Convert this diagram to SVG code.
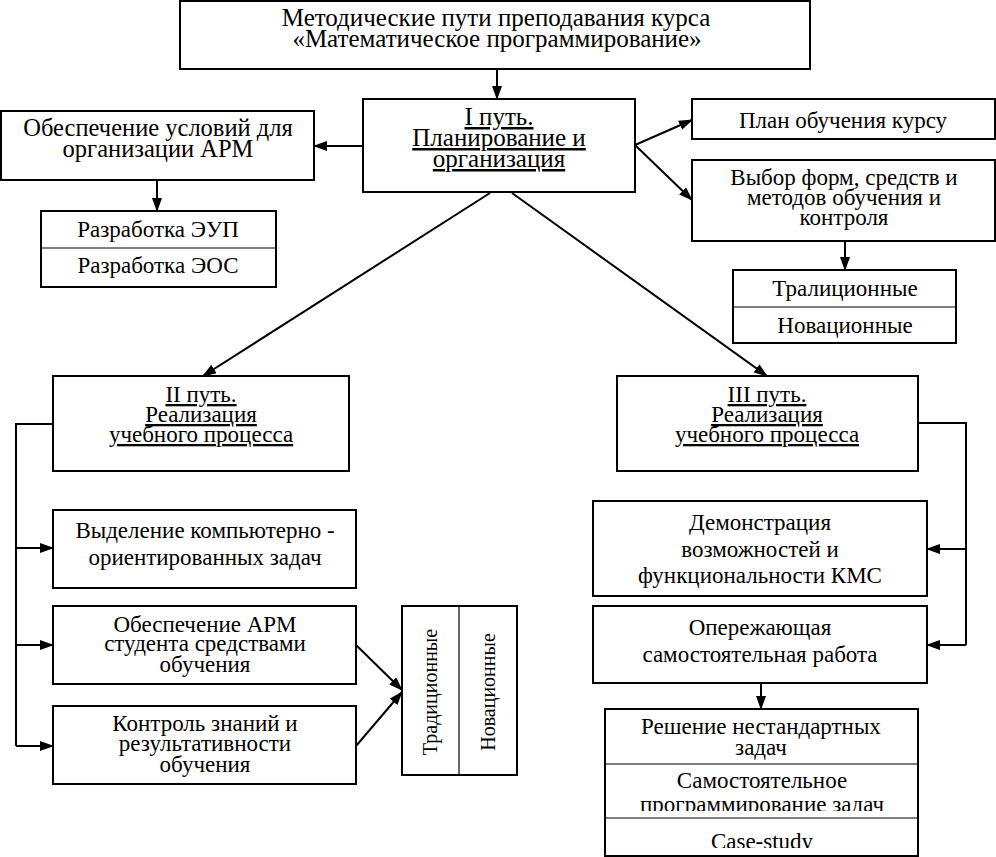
<svg xmlns="http://www.w3.org/2000/svg" width="996" height="857" viewBox="0 0 996 857">
<defs>
<marker id="ah" markerWidth="14" markerHeight="10" refX="13" refY="5" orient="auto" markerUnits="userSpaceOnUse">
<path d="M0,0 L14,5 L0,10 Z" fill="#000"/>
</marker>
<clipPath id="clipProg"><rect x="605" y="764" width="313" height="47"/></clipPath>
<clipPath id="clipCase"><rect x="605" y="818" width="313" height="30"/></clipPath>
<style>
.b{fill:#fff;stroke:#000;stroke-width:2}
.d{stroke:#000;stroke-width:1.2;fill:none}
.c{stroke:#000;stroke-width:2;fill:none}
.a{marker-end:url(#ah)}
text{font-family:"Liberation Serif","Times New Roman",serif;font-size:23px;fill:#000;text-anchor:middle}
.big{font-size:25px}
.mid{font-size:24.5px}
.rot{font-size:20px}
.u{text-decoration:underline}
</style>
</defs>
<rect width="996" height="857" fill="#fff"/>
<g id="connectors">
<line class="c a" x1="497" y1="69" x2="497" y2="99"/>
<line class="c a" x1="363" y1="146" x2="314" y2="146"/>
<line class="c a" x1="157" y1="180" x2="157" y2="211"/>
<line class="c a" x1="635" y1="145" x2="692" y2="120"/>
<line class="c a" x1="635" y1="145" x2="692" y2="200"/>
<line class="c a" x1="845" y1="241" x2="845" y2="270"/>
<line class="c a" x1="490" y1="193" x2="203" y2="376"/>
<line class="c a" x1="512" y1="193" x2="767" y2="376"/>
<polyline class="c" points="53,424 16,424 16,746"/>
<line class="c a" x1="16" y1="548" x2="53" y2="548"/>
<line class="c a" x1="16" y1="645" x2="53" y2="645"/>
<line class="c a" x1="16" y1="746" x2="53" y2="746"/>
<line class="c a" x1="356" y1="645" x2="402" y2="690"/>
<line class="c a" x1="356" y1="746" x2="402" y2="692"/>
<polyline class="c" points="918,423 966,423 966,645"/>
<line class="c a" x1="966" y1="549" x2="927" y2="549"/>
<line class="c a" x1="966" y1="645" x2="927" y2="645"/>
<line class="c a" x1="761" y1="683" x2="761" y2="709"/>
</g>
<g id="n-top">
<rect class="b" x="180" y="1" width="630" height="68"/>
<text class="big" x="496" y="26">Методические пути преподавания курса</text>
<text class="big" x="497" y="47">«Математическое программирование»</text>
</g>
<g id="n-path1">
<rect class="b" x="363" y="99" width="272" height="93"/>
<text class="u big" x="499" y="125">I путь.</text>
<text class="u big" x="499" y="146">Планирование и</text>
<text class="u big" x="499" y="167">организация</text>
</g>
<g id="n-arm">
<rect class="b" x="1" y="111" width="313" height="69"/>
<text class="mid" x="158" y="136">Обеспечение условий для</text>
<text class="mid" x="158" y="157">организации АРМ</text>
</g>
<g id="n-razr">
<rect class="b" x="41" y="211" width="235" height="76"/>
<line class="d" x1="41" y1="248" x2="276" y2="248"/>
<text x="158" y="237">Разработка ЭУП</text>
<text x="158" y="273">Разработка ЭОС</text>
</g>
<g id="n-plan">
<rect class="b" x="692" y="99" width="303" height="40"/>
<text x="843" y="128">План обучения курсу</text>
</g>
<g id="n-vybor">
<rect class="b" x="692" y="160" width="303" height="81"/>
<text x="844" y="185">Выбор форм, средств и</text>
<text x="844" y="205">методов обучения и</text>
<text x="844" y="225">контроля</text>
</g>
<g id="n-trad1">
<rect class="b" x="733" y="270" width="223" height="73"/>
<line class="d" x1="733" y1="307" x2="956" y2="307"/>
<text x="845" y="296">Тралиционные</text>
<text x="845" y="333">Новационные</text>
</g>
<g id="n-path2">
<rect class="b" x="53" y="376" width="296" height="95"/>
<text class="u" x="201" y="402">II путь.</text>
<text class="u" x="201" y="422">Реализация</text>
<text class="u" x="201" y="442">учебного процесса</text>
</g>
<g id="n-path3">
<rect class="b" x="617" y="376" width="301" height="95"/>
<text class="u" x="767" y="402">III путь.</text>
<text class="u" x="767" y="422">Реализация</text>
<text class="u" x="767" y="442">учебного процесса</text>
</g>
<g id="n-vyd">
<rect class="b" x="53" y="510" width="303" height="78"/>
<text x="205" y="538">Выделение компьютерно -</text>
<text x="205" y="565">ориентированных задач</text>
</g>
<g id="n-obesp">
<rect class="b" x="53" y="606" width="303" height="78"/>
<text x="205" y="632">Обеспечение АРМ</text>
<text x="205" y="651">студента средствами</text>
<text x="205" y="672">обучения</text>
</g>
<g id="n-kontr">
<rect class="b" x="53" y="706" width="303" height="78"/>
<text x="205" y="731">Контроль знаний и</text>
<text x="205" y="751">результативности</text>
<text x="205" y="772">обучения</text>
</g>
<g id="n-trad2">
<rect class="b" x="402" y="606" width="115" height="169"/>
<line class="d" x1="459" y1="606" x2="459" y2="775"/>
<text class="rot" transform="translate(437,692) rotate(-90)">Традиционные</text>
<text class="rot" transform="translate(495,692) rotate(-90)">Новационные</text>
</g>
<g id="n-demo">
<rect class="b" x="593" y="501" width="334" height="95"/>
<text x="760" y="530">Демонстрация</text>
<text x="760" y="557">возможностей и</text>
<text x="760" y="583">функциональности КМС</text>
</g>
<g id="n-operezh">
<rect class="b" x="593" y="606" width="334" height="77"/>
<text x="760" y="635">Опережающая</text>
<text x="760" y="662">самостоятельная работа</text>
</g>
<g id="n-resh">
<rect class="b" x="605" y="709" width="313" height="147"/>
<line class="d" x1="605" y1="764" x2="918" y2="764"/>
<line class="d" x1="605" y1="818" x2="918" y2="818"/>
<text x="761" y="734">Решение нестандартных</text>
<text x="761" y="755">задач</text>
<text x="762" y="788">Самостоятельное</text>
<text x="762" y="812" clip-path="url(#clipProg)">программирование задач</text>
<text x="762" y="849" clip-path="url(#clipCase)">Case-study</text>
</g>
</svg>
